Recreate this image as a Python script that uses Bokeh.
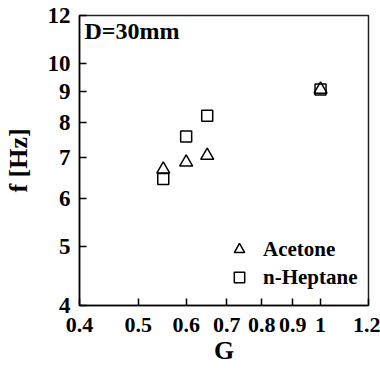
from bokeh.plotting import figure
from bokeh.models import FixedTicker, Legend, LegendItem, Label, Range1d
from bokeh.embed import file_html
from bokeh.resources import INLINE

# data
G = [0.55, 0.60, 0.65, 1.00]
f_acetone = [6.70, 6.88, 7.06, 9.07]
f_heptane = [6.46, 7.59, 8.21, 9.07]

x_ticks = [0.4, 0.5, 0.6, 0.7, 0.8, 0.9, 1.0, 1.2]
x_tick_labels = ["0.4", "0.5", "0.6", "0.7", "0.8", "0.9", "1", "1.2"]
y_ticks = [4, 5, 6, 7, 8, 9, 10, 12]
y_tick_labels = ["4", "5", "6", "7", "8", "9", "10", "12"]

FONT = "Liberation Serif"

p = figure(width=380, height=368, x_axis_type="log", y_axis_type="log",
           x_range=Range1d(0.4, 1.2), y_range=Range1d(4, 12),
           output_backend="svg", toolbar_location=None,
           min_border_left=78, min_border_right=12, min_border_top=15,
           min_border_bottom=63, background_fill_color="white",
           border_fill_color="white")

p.xgrid.visible = False
p.ygrid.visible = False
p.outline_line_color = "#222222"
p.outline_line_width = 1.5

p.xaxis.ticker = FixedTicker(ticks=x_ticks, minor_ticks=[])
p.yaxis.ticker = FixedTicker(ticks=y_ticks, minor_ticks=[])
p.xaxis.major_label_overrides = {float(t): l for t, l in zip(x_ticks, x_tick_labels)}
p.yaxis.major_label_overrides = {float(t): l for t, l in zip(y_ticks, y_tick_labels)}

for ax in (p.xaxis, p.yaxis):
    ax.major_tick_in = 7
    ax.major_tick_out = 0
    ax.minor_tick_in = 0
    ax.minor_tick_out = 0
    ax.axis_line_width = 1.5
    ax.axis_line_color = "black"
    ax.major_tick_line_width = 1.5
    ax.major_tick_line_color = "black"
    ax.major_label_text_font = FONT
    ax.major_label_text_font_style = "bold"
    ax.major_label_text_color = "black"
    ax.axis_label_text_font = FONT
    ax.axis_label_text_font_style = "bold"
    ax.axis_label_text_font_size = "26px"
    ax.axis_label_text_color = "black"

p.xaxis.major_label_text_font_size = "22px"
p.yaxis.major_label_text_font_size = "23px"
p.xaxis.major_label_standoff = 12
p.yaxis.major_label_standoff = 9
p.xaxis.axis_label = "G"
p.yaxis.axis_label = "f [Hz]"
p.xaxis.axis_label_standoff = 1
p.yaxis.axis_label_standoff = 12

r1 = p.scatter(G, f_acetone, marker="triangle", size=13, fill_color=None,
               line_color="black", line_width=1.5)
r2 = p.scatter(G, f_heptane, marker="square", size=11, fill_color=None,
               line_color="black", line_width=1.5)

legend = Legend(items=[LegendItem(label="Acetone", renderers=[r1]),
                       LegendItem(label="n-Heptane", renderers=[r2])],
                location=(147, 15), orientation="vertical",
                border_line_color=None, background_fill_alpha=0,
                padding=0, margin=0, spacing=2, glyph_width=26,
                glyph_height=26, label_standoff=11, label_height=26,
                label_text_font=FONT, label_text_font_style="bold",
                label_text_font_size="21px", label_text_color="black")
p.add_layout(legend)

p.add_layout(Label(x=5, y=288, x_units="screen", y_units="screen",
                   text="D=30mm", text_font=FONT, text_font_style="bold",
                   text_font_size="24px", text_baseline="top",
                   text_color="black"))

open("out.html", "w").write(file_html(p, INLINE))
